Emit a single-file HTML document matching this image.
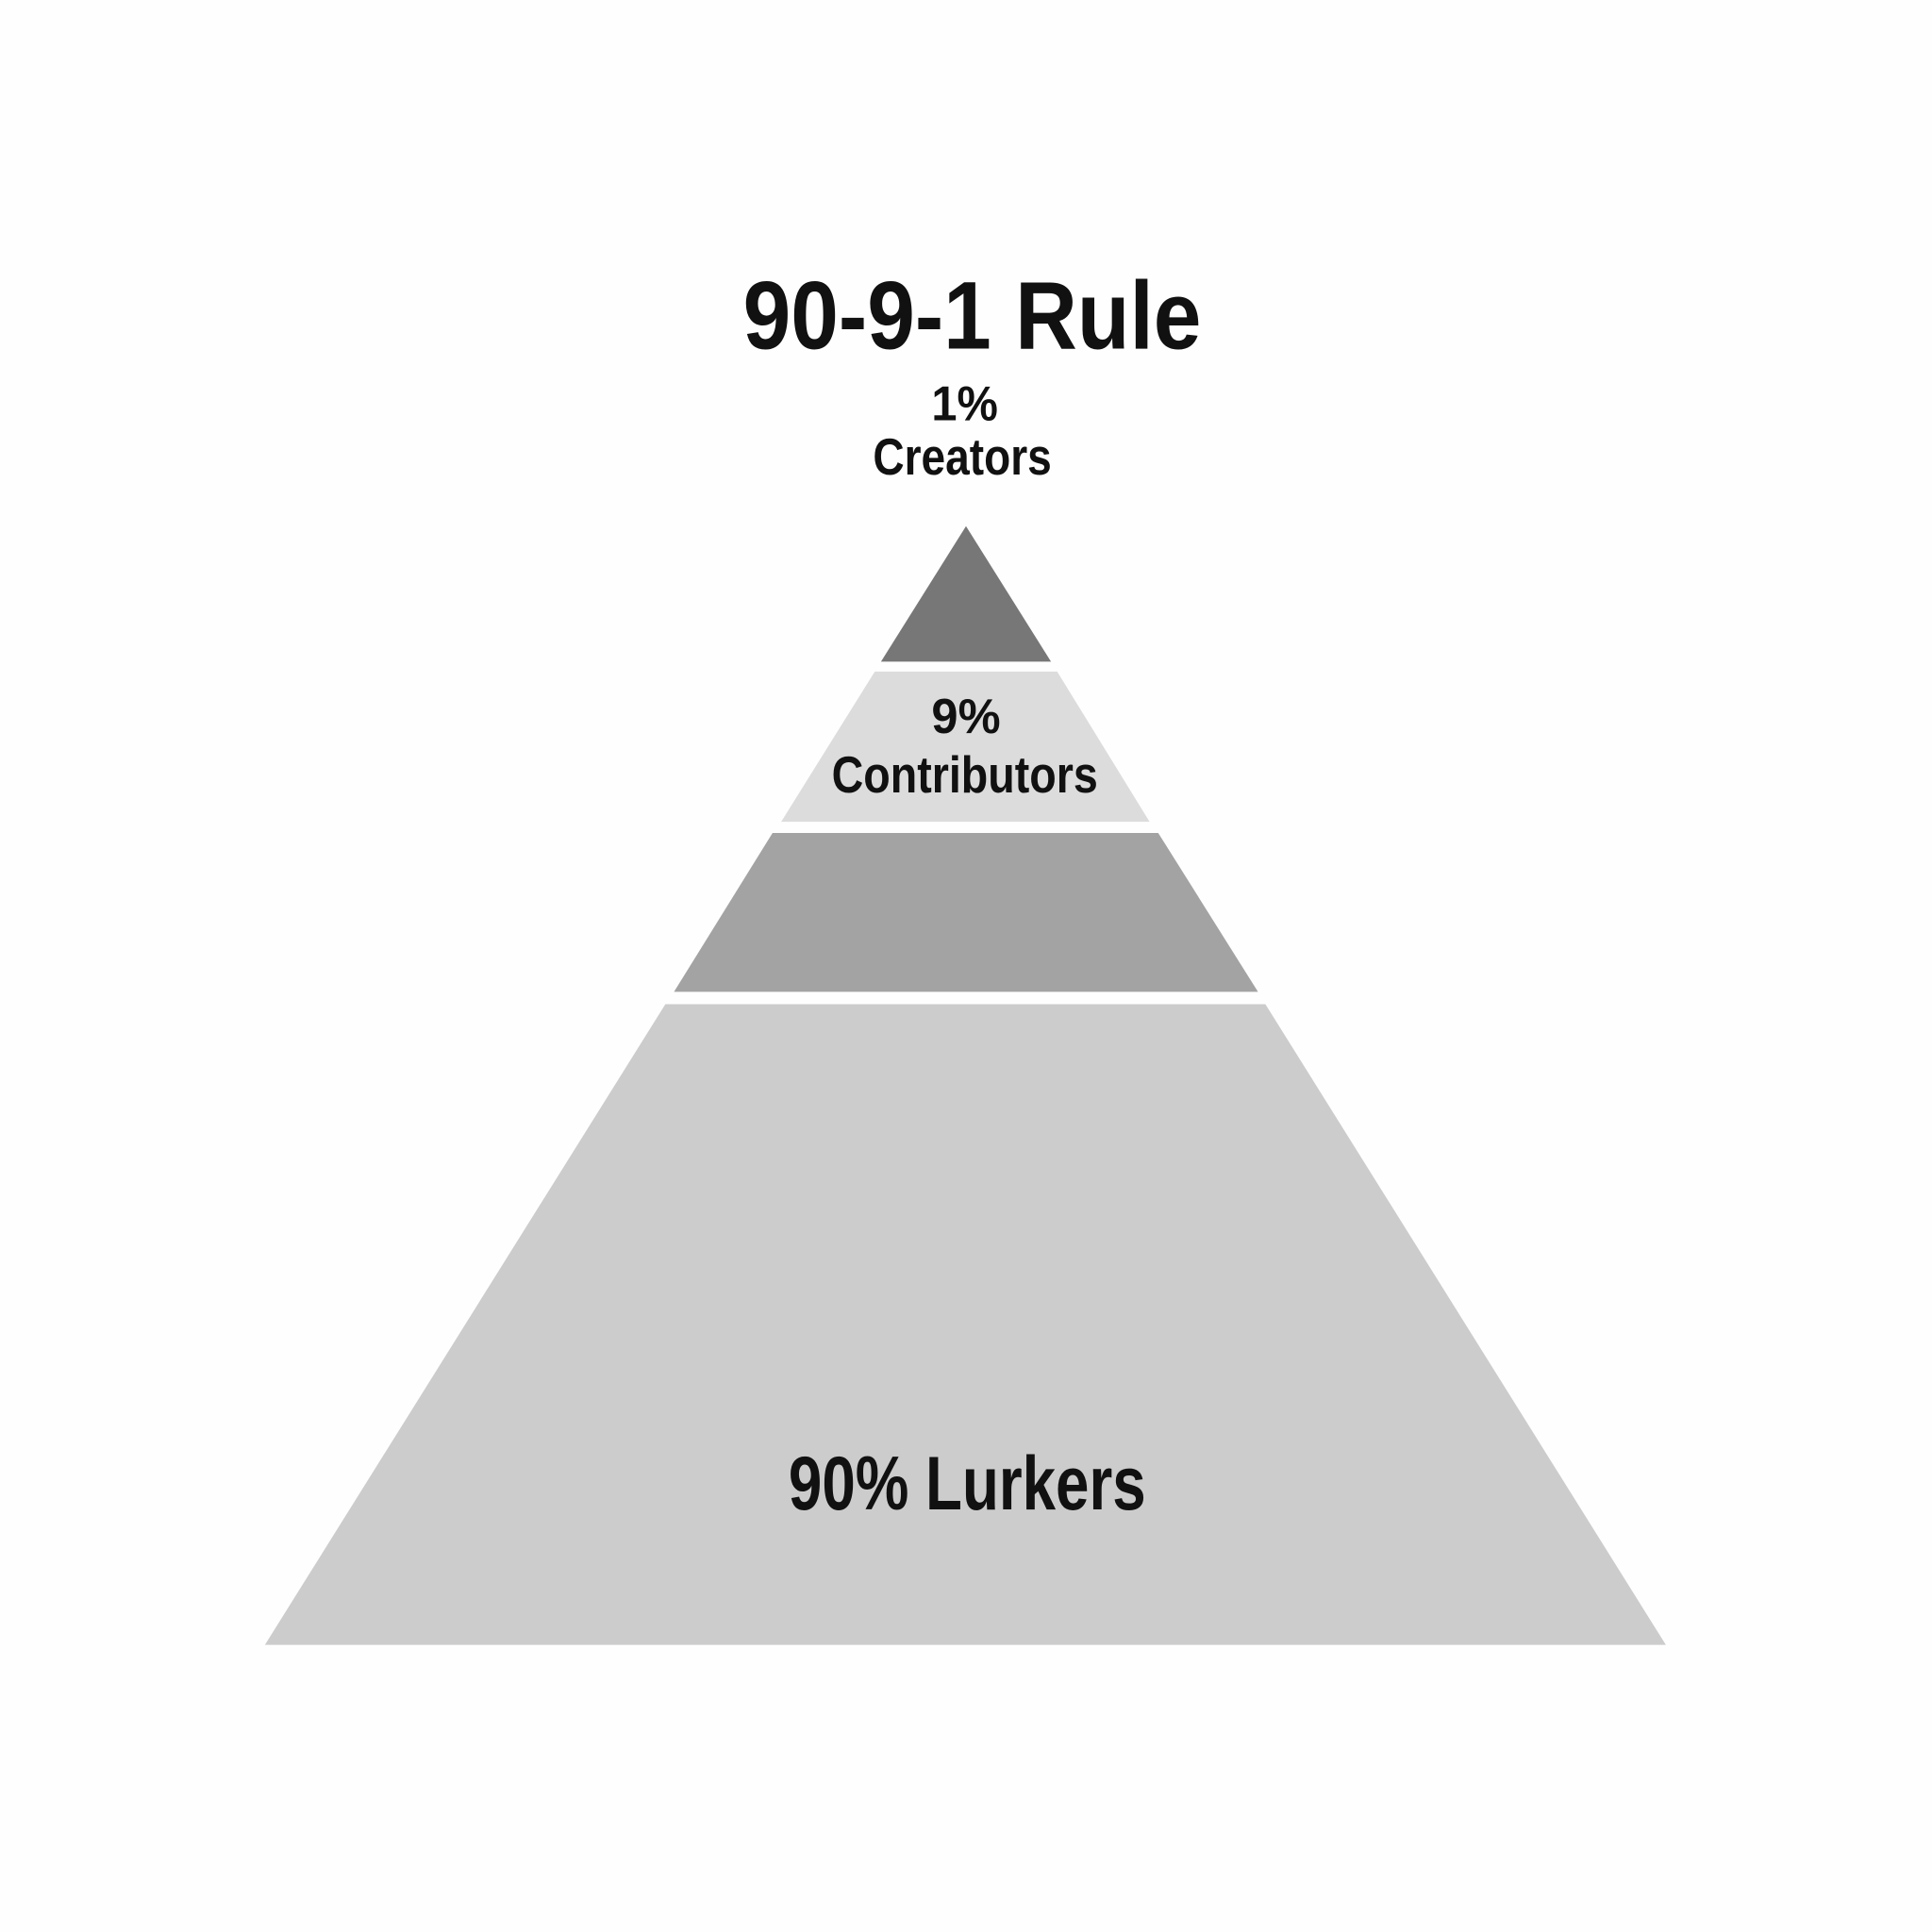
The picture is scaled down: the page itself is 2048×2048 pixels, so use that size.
<!DOCTYPE html>
<html><head><meta charset="utf-8"><style>
html,body{margin:0;padding:0;background:#fefefe;}
svg{display:block;}
text{font-family:"Liberation Sans Narrow","Liberation Sans",sans-serif;font-weight:bold;fill:#111;text-anchor:middle;}
</style></head><body>
<svg width="2048" height="2048" viewBox="0 0 1568 1568" xmlns="http://www.w3.org/2000/svg">
<rect width="1568" height="1568" fill="#fefefe"/>
<polygon points="784,427 853,537 715,537" fill="#777777"/>
<polygon points="710,545 858,545 933,667 634,667" fill="#dcdcdc"/>
<polygon points="627,676 940,676 1021,805 547,805" fill="#a3a3a3"/>
<polygon points="540,815 1027,815 1352,1335 215,1335" fill="#cccccc"/>
<text x="789" y="283" font-size="78" textLength="372" lengthAdjust="spacingAndGlyphs">90-9-1 Rule</text>
<text x="783" y="341" font-size="40" textLength="54" lengthAdjust="spacingAndGlyphs">1%</text>
<text x="781" y="385" font-size="42" textLength="145" lengthAdjust="spacingAndGlyphs">Creators</text>
<text x="784" y="595" font-size="40" textLength="56" lengthAdjust="spacingAndGlyphs">9%</text>
<text x="783" y="643" font-size="42" textLength="216" lengthAdjust="spacingAndGlyphs">Contributors</text>
<text x="785" y="1225" font-size="62" textLength="290" lengthAdjust="spacingAndGlyphs">90% Lurkers</text>
</svg>
</body></html>
